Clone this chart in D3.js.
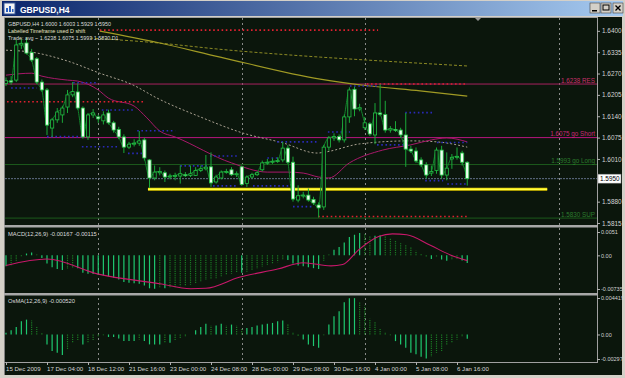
<!DOCTYPE html>
<html>
<head>
<meta charset="utf-8">
<script src="https://cdn.jsdelivr.net/npm/d3@7"></script>
<style>
  html, body { margin: 0; padding: 0; background: #d4d0c8; overflow: hidden; }
  svg { display: block; font-family: 'Liberation Sans', Arial, sans-serif; }
</style>
</head>
<body>
<div id="chart"></div>
<script>
// H4 bars, index 0 = 15 Dec 2009
const opens = [1.6240,1.6248,1.6250,1.6357,1.6363,1.6334,1.6315,1.6244,1.6220,1.6104,
  1.6129,1.6144,1.6168,1.6205,1.6214,1.6165,1.6077,1.6144,1.6138,1.6126,
  1.6150,1.6120,1.6100,1.6077,1.6046,1.6055,1.6058,1.6068,1.6007,1.5952,
  1.5968,1.5968,1.5955,1.5958,1.5958,1.5962,1.5960,1.5960,1.5975,1.5980,
  1.5986,1.5940,1.5952,1.5970,1.5977,1.5962,1.5986,1.5935,1.5955,1.5962,
  1.5977,1.5998,1.6000,1.6003,1.6007,1.6043,1.6000,1.5885,1.5898,1.5900,
  1.5887,1.5870,1.5864,1.6046,1.6074,1.6078,1.6068,1.6138,1.6222,1.6162,
  1.6105,1.6117,1.6083,1.6150,1.6145,1.6098,1.6100,1.6098,1.6083,1.6040,
  1.6034,1.6007,1.5992,1.5967,1.5975,1.6037,1.5961,1.6010,1.6015,1.6028,1.6000];
const highs = [1.6258,1.6262,1.6372,1.6375,1.6380,1.6345,1.6320,1.6252,1.6226,1.6135,
  1.6165,1.6172,1.6220,1.6244,1.6240,1.6170,1.6150,1.6162,1.6145,1.6155,
  1.6160,1.6126,1.6108,1.6085,1.6062,1.6070,1.6095,1.6075,1.6010,1.5990,
  1.5985,1.5975,1.5965,1.5968,1.5990,1.5970,1.5990,1.5985,1.5990,1.6022,
  1.6030,1.5962,1.5975,1.5980,1.5985,1.5972,1.5990,1.5960,1.5968,1.5972,
  1.6005,1.6010,1.6012,1.6015,1.6062,1.6052,1.6017,1.5930,1.5910,1.5920,
  1.5895,1.5878,1.6053,1.6080,1.6088,1.6085,1.6145,1.6228,1.6230,1.6178,
  1.6138,1.6122,1.6180,1.6238,1.6187,1.6110,1.6125,1.6105,1.6150,1.6050,
  1.6045,1.6015,1.6000,1.5990,1.6045,1.6050,1.6030,1.6025,1.6045,1.6035,1.6003];
const lows = [1.6232,1.6236,1.6244,1.6345,1.6328,1.6305,1.6238,1.6214,1.6083,1.6077,
  1.6120,1.6120,1.6150,1.6198,1.6160,1.6072,1.6068,1.6135,1.6120,1.6115,
  1.6115,1.6090,1.6070,1.6028,1.6040,1.6048,1.6050,1.6005,1.5922,1.5945,
  1.5960,1.5940,1.5948,1.5945,1.5935,1.5955,1.5955,1.5958,1.5970,1.5975,
  1.5925,1.5935,1.5948,1.5965,1.5958,1.5955,1.5928,1.5925,1.5950,1.5958,
  1.5972,1.5992,1.5995,1.5998,1.6000,1.5995,1.5880,1.5878,1.5890,1.5880,
  1.5870,1.5832,1.5855,1.6035,1.6065,1.6060,1.6060,1.6120,1.6140,1.6155,
  1.6098,1.6080,1.6055,1.6140,1.6090,1.6090,1.6092,1.6075,1.5986,1.6028,
  1.5998,1.5985,1.5950,1.5958,1.5965,1.5950,1.5945,1.5980,1.6008,1.5990,1.5929];
const closes = [1.6248,1.6244,1.6357,1.6362,1.6332,1.6311,1.6244,1.6220,1.6113,1.6129,
  1.6153,1.6165,1.6205,1.6215,1.6165,1.6077,1.6144,1.6150,1.6132,1.6144,
  1.6120,1.6098,1.6077,1.6046,1.6055,1.6058,1.6065,1.6013,1.5952,1.5970,
  1.5972,1.5955,1.5958,1.5960,1.5965,1.5960,1.5965,1.5975,1.5980,1.5985,
  1.5937,1.5955,1.5970,1.5972,1.5962,1.5965,1.5932,1.5955,1.5962,1.5968,
  1.5998,1.6000,1.6003,1.6005,1.6043,1.6000,1.5888,1.5898,1.5900,1.5885,
  1.5876,1.5861,1.6046,1.6074,1.6078,1.6068,1.6138,1.6220,1.6162,1.6166,
  1.6120,1.6086,1.6150,1.6146,1.6098,1.6102,1.6098,1.6083,1.6040,1.6034,
  1.6004,1.5992,1.5961,1.5972,1.6037,1.5961,1.5982,1.6015,1.6018,1.6000,1.5950];

// date labels on the time axis (bar index -> text)
const dateIdx = [0, 8, 16, 24, 32, 40, 48, 56, 64, 72, 80, 88];
const dateLabels = ['15 Dec 2009', '17 Dec 04:00', '18 Dec 12:00', '21 Dec 16:00', '23 Dec 00:00',
  '24 Dec 08:00', '28 Dec 00:00', '29 Dec 08:00', '30 Dec 16:00', '4 Jan 00:00', '5 Jan 08:00', '6 Jan 16:00'];
const priceTicks = [1.6400, 1.6335, 1.6270, 1.6205, 1.6140, 1.6075, 1.6010, 1.5880, 1.5815];
const lastPrice = 1.5950;
const weekSeparators = [18, 46, 70, 108];

// moving averages: [bar, price]
const maMagenta = [[0,1.6265],[5,1.6271],[7,1.6262],[12,1.6250],[14,1.6247],[18,1.6220],[20,1.6195],
  [25,1.6171],[27.5,1.6135],[30,1.6095],[33,1.6077],[44,1.5998],[51,1.5970],[55,1.5970],[58,1.5967],
  [61,1.5955],[63,1.5952],[67,1.5998],[73.5,1.6037],[79,1.6053],[83,1.6068],[86,1.6074],[90,1.6062]];
const maGray = [[0,1.6341],[5,1.6335],[12,1.6308],[18.3,1.6271],[24.8,1.6235],[29.5,1.6195],
  [37.9,1.6138],[46.2,1.6089],[54,1.6059],[60.7,1.6028],[62.3,1.6031],[69.1,1.6056],[78.8,1.6065],
  [84.1,1.6062],[90,1.6046]];
const maOlive = [[18.3,1.6399],[30,1.6363],[41.8,1.6320],[61.3,1.6253],[71,1.6232],[80.8,1.6217],[90,1.6201]];
const maOliveDash = [[16.4,1.6378],[27.5,1.6366],[43.7,1.6341],[61.3,1.6320],[70.4,1.6311],[90,1.6293]];

// level lines across the chart
const levelNames = ['1.6238 RES', '1.6075 go Short', '1.5993 go Long', '1.5830 SUP'];
const levelPrices = [1.6238, 1.6075, 1.5993, 1.5830];
const levelColors = ['#a8205e', '#b8157e', '#1c5a1c', '#1c5a1c'];
const levelText = ['#c8306a', '#c82878', '#2c7c2c', '#2c7c2c'];

// short dotted levels: [from bar, to bar, price]
const blueLevels = [[1,6,1.6226],[13.1,17.8,1.6242],[8,14.8,1.6078],[14.8,21.9,1.6047],[18.7,25.2,1.6159],
  [23.8,26.5,1.6027],[25.6,33,1.6096],[34,39.2,1.5989],[39.8,45.1,1.6019],[40.4,45.1,1.5928],
  [48.2,55.4,1.5928],[51,53.5,1.6013],[56,60,1.5865],[52.9,60.7,1.6062],[62.8,67.1,1.6092],
  [67.1,72.4,1.6232],[77.9,83.3,1.6151],[72.4,78.8,1.6053],[84.1,90,1.6060],[81.8,85.3,1.5944],[86.1,90,1.5934]];
const redLevels = [[18.3,72.6,1.6402],[0.2,27.1,1.6184],[60.9,90.1,1.5835],[70.4,90,1.6238]];
const supportLine = [27.7, 105.6, 1.5918];

// MACD(12,26,9)
const macdMain = [-0.0024,-0.0022,-0.0012,-0.0002,0.0004,0.0006,0.0002,-0.0006,-0.0018,-0.0026,
  -0.0030,-0.0032,-0.0030,-0.0027,-0.0028,-0.0038,-0.0040,-0.0041,-0.0043,-0.0044,
  -0.0046,-0.0049,-0.0053,-0.0058,-0.0060,-0.0061,-0.0062,-0.0066,-0.0072,-0.0073,
  -0.0072,-0.0072,-0.0071,-0.0070,-0.0068,-0.0066,-0.0064,-0.0061,-0.0058,-0.0054,
  -0.0053,-0.0050,-0.0046,-0.0043,-0.0040,-0.0037,-0.0038,-0.0036,-0.0032,-0.0029,
  -0.0025,-0.0021,-0.0018,-0.0015,-0.0010,-0.0010,-0.0018,-0.0022,-0.0024,-0.0026,
  -0.0028,-0.0030,-0.0012,0.0002,0.0012,0.0018,0.0028,0.0040,0.0045,0.0049,
  0.0046,0.0041,0.0043,0.0044,0.0042,0.0037,0.0032,0.0028,0.0022,0.0017,
  0.0010,0.0004,-0.0003,-0.0008,-0.0004,-0.0009,-0.0012,-0.0010,-0.0009,-0.0011,-0.00167];
const macdSignal = [[0,-0.0022],[8,-0.0008],[18,-0.0041],[30,-0.0062],[36,-0.0073],[39,-0.0072],
  [45.5,-0.0048],[53,-0.0030],[58,-0.0016],[63.4,-0.0023],[65.7,-0.0020],[68.8,0.0012],[72.7,0.0041],
  [75.4,0.0047],[78.2,0.0045],[82.8,0.0022],[86.7,0.0001],[90,-0.00115]];
const macdTicks = [0.0051, 0, -0.00735];
const macdTickText = ['0.0051', '0.00', '-0.00735'];

// OsMA(12,26,9)
const osma = [0.0002,0.0005,0.0009,0.0016,0.0018,0.0017,0.0009,0.0002,-0.0012,-0.0020,
  -0.0022,-0.0025,-0.0018,-0.0010,-0.0008,-0.0012,-0.0010,-0.0008,-0.0003,-0.0001,
  -0.0003,-0.0003,-0.0005,-0.0008,-0.0008,-0.0008,-0.0006,-0.0008,-0.0012,-0.0012,
  -0.0012,-0.0010,-0.0010,-0.0008,-0.0005,-0.0003,0.0000,0.0005,0.0009,0.0013,
  0.0011,0.0011,0.0013,0.0011,0.0012,0.0011,0.0007,0.0008,0.0009,0.0011,
  0.0012,0.0013,0.0014,0.0016,0.0017,0.0013,0.0003,-0.0002,-0.0006,-0.0012,
  -0.0014,-0.0016,-0.0001,0.0012,0.0022,0.0028,0.0039,0.0044,0.0044,0.0040,
  0.0035,0.0019,0.0016,0.0008,0.0003,-0.0001,-0.0008,-0.0012,-0.0016,-0.0022,
  -0.0024,-0.0027,-0.0029,-0.0027,-0.0022,-0.0020,-0.0012,-0.0010,-0.0006,-0.0003,-0.00052];
const osmaTicks = [0.004419, 0, -0.00297];
const osmaTickText = ['0.004419', '0.00', '-0.00297'];

const W = 625, H = 378;
const bg = '#0b160c';
const plotL = 5, plotR = 597;

const svg = d3.select('#chart').append('svg')
  .attr('width', W).attr('height', H)
  .attr('xmlns', 'http://www.w3.org/2000/svg');

// window frame and title bar
svg.append('rect').attr('width', W).attr('height', H).attr('fill', '#d4d0c8');
const grad = svg.append('defs').append('linearGradient').attr('id', 'title');
grad.append('stop').attr('offset', '0%').attr('stop-color', '#0a246a');
grad.append('stop').attr('offset', '100%').attr('stop-color', '#a6caf0');
svg.append('rect').attr('x', 2).attr('y', 1).attr('width', W - 4).attr('height', 15).attr('fill', 'url(#title)');
const icon = svg.append('g').attr('transform', 'translate(4,3)');
icon.append('rect').attr('width', 11).attr('height', 11).attr('fill', '#f4f4f4').attr('stroke', '#3a5a9a');
icon.append('rect').attr('x', 2).attr('y', 5).attr('width', 2).attr('height', 4).attr('fill', '#2a60c0');
icon.append('rect').attr('x', 5).attr('y', 3).attr('width', 2).attr('height', 6).attr('fill', '#2a60c0');
icon.append('rect').attr('x', 8).attr('y', 6).attr('width', 1.5).attr('height', 3).attr('fill', '#2a60c0');
svg.append('text').attr('x', 20).attr('y', 12.5).attr('fill', '#fff')
  .attr('font-size', 8.5).attr('font-weight', 'bold').text('GBPUSD,H4');
[590, 601, 613].forEach((bx, k) => {
  const b = svg.append('g').attr('transform', `translate(${bx},3)`);
  b.append('rect').attr('width', 10).attr('height', 10).attr('fill', '#d4d0c8')
    .attr('stroke', '#404040').attr('stroke-width', 0.6);
  if (k === 0) b.append('rect').attr('x', 2).attr('y', 7).attr('width', 5).attr('height', 1.5).attr('fill', '#000');
  if (k === 1) b.append('rect').attr('x', 2).attr('y', 2).attr('width', 6).attr('height', 5)
    .attr('fill', 'none').attr('stroke', '#000').attr('stroke-width', 1);
  if (k === 2) b.append('path').attr('d', 'M2.5,2.5L7.5,7.5M7.5,2.5L2.5,7.5').attr('stroke', '#000').attr('stroke-width', 1.3);
});

// chart area
svg.append('rect').attr('x', 4).attr('y', 17).attr('width', 618).attr('height', 358).attr('fill', bg);

const x = d3.scaleLinear().domain([0, 90]).range([6, 467.25]);
const y = d3.scaleLinear().domain([1.5809, 1.6439]).range([225, 18]);
const yMacd = d3.scaleLinear().domain([-0.00735, 0.0051]).range([289, 232]);
const yOsma = d3.scaleLinear().domain([-0.00297, 0.004419]).range([359, 298]);

const defs = svg.select('defs');
defs.append('clipPath').attr('id', 'mainClip').append('rect')
  .attr('x', plotL).attr('y', 18).attr('width', plotR - plotL).attr('height', 207);

// week separators through all panels
svg.append('g').selectAll('line').data(weekSeparators).join('line')
  .attr('x1', d => Math.round(x(d)) + 0.5).attr('x2', d => Math.round(x(d)) + 0.5)
  .attr('y1', 18).attr('y2', 362)
  .attr('stroke', '#a8a8a8').attr('stroke-width', 0.8).attr('stroke-dasharray', '2,3');

const main = svg.append('g').attr('clip-path', 'url(#mainClip)');

// full-width level lines
main.selectAll('.lvl').data(levelPrices).join('line')
  .attr('x1', plotL).attr('x2', plotR)
  .attr('y1', d => y(d)).attr('y2', d => y(d))
  .attr('stroke', (d, i) => levelColors[i]).attr('stroke-width', 1);
main.append('line').attr('x1', plotL).attr('x2', plotR)
  .attr('y1', y(lastPrice)).attr('y2', y(lastPrice))
  .attr('stroke', '#7a86a8').attr('stroke-width', 0.8).attr('stroke-dasharray', '2,1');

// moving averages
const maLine = d3.line().x(d => x(d[0])).y(d => y(d[1])).curve(d3.curveMonotoneX);
main.append('path').attr('d', maLine(maOliveDash)).attr('fill', 'none')
  .attr('stroke', '#8c8a24').attr('stroke-width', 1).attr('stroke-dasharray', '3,2');
main.append('path').attr('d', maLine(maOlive)).attr('fill', 'none')
  .attr('stroke', '#a09a24').attr('stroke-width', 1.2);
main.append('path').attr('d', maLine(maGray)).attr('fill', 'none')
  .attr('stroke', '#a8a090').attr('stroke-width', 1).attr('stroke-dasharray', '2,2');
main.append('path').attr('d', maLine(maMagenta)).attr('fill', 'none')
  .attr('stroke', '#a8186a').attr('stroke-width', 1);

// dotted short levels
main.selectAll('.blue').data(blueLevels).join('line')
  .attr('x1', d => x(d[0])).attr('x2', d => x(d[1]))
  .attr('y1', d => y(d[2])).attr('y2', d => y(d[2]))
  .attr('stroke', '#2a2ab8').attr('stroke-width', 1.6).attr('stroke-dasharray', '1.6,2.6');
main.selectAll('.red').data(redLevels).join('line')
  .attr('x1', d => x(d[0])).attr('x2', d => x(d[1]))
  .attr('y1', d => y(d[2])).attr('y2', d => y(d[2]))
  .attr('stroke', '#e02030').attr('stroke-width', 1.6).attr('stroke-dasharray', '1.6,2.6');

// yellow support
main.append('line').attr('x1', x(supportLine[0])).attr('x2', x(supportLine[1]))
  .attr('y1', y(supportLine[2])).attr('y2', y(supportLine[2]))
  .attr('stroke', '#e0c800').attr('stroke-width', 3);
main.append('line').attr('x1', x(supportLine[0])).attr('x2', x(supportLine[1]))
  .attr('y1', y(supportLine[2])).attr('y2', y(supportLine[2]))
  .attr('stroke', '#ffff40').attr('stroke-width', 1.4);

// close line
const idx = d3.range(closes.length);
main.append('path')
  .attr('d', d3.line().x(i => x(i)).y(i => y(closes[i])).curve(d3.curveMonotoneX)(idx))
  .attr('fill', 'none').attr('stroke', '#12862c').attr('stroke-width', 1);

// candles
const bw = 3.2;
main.selectAll('.wick').data(idx).join('line')
  .attr('x1', i => x(i)).attr('x2', i => x(i))
  .attr('y1', i => y(highs[i])).attr('y2', i => y(lows[i]))
  .attr('stroke', '#1aa838').attr('stroke-width', 1);
main.selectAll('.body').data(idx).join('rect')
  .attr('x', i => x(i) - bw / 2)
  .attr('y', i => y(Math.max(opens[i], closes[i])))
  .attr('width', bw)
  .attr('height', i => Math.max(1, Math.abs(y(opens[i]) - y(closes[i]))))
  .attr('fill', i => closes[i] >= opens[i] ? bg : '#eefff0')
  .attr('stroke', '#22c044').attr('stroke-width', 0.8);

// level labels
svg.selectAll('.lvlText').data(levelNames).join('text')
  .attr('x', plotR - 2).attr('y', (d, i) => y(levelPrices[i]) - 1.5)
  .attr('text-anchor', 'end').attr('font-size', 6.3)
  .attr('fill', (d, i) => levelText[i]).text(d => d);

// header texts
const head = svg.append('g').attr('fill', '#dcdcdc').attr('font-size', 5.4);
head.append('text').attr('x', 8).attr('y', 25.5).text('GBPUSD,H4  1.6000 1.6003 1.5929 1.5950');
head.append('text').attr('x', 8).attr('y', 32.5).attr('fill', '#e6e2c0').text('Labelled Timeframe used D shift');
head.append('text').attr('x', 8).attr('y', 39.5).text('Trade: avg ~ 1.6238 1.6075 1.5993 1.5830 D1.');

// chart shift marker
svg.append('path').attr('d', 'M475,18L481,18L478,21Z').attr('fill', '#9a9a9a');

// MACD panel
const macdG = svg.append('g');
macdG.selectAll('line').data(idx).join('line')
  .attr('x1', i => x(i)).attr('x2', i => x(i))
  .attr('y1', yMacd(0)).attr('y2', i => yMacd(macdMain[i]))
  .attr('stroke', i => (i === 0 || Math.abs(macdMain[i]) >= Math.abs(macdMain[i - 1])) ? '#1ec870' : '#1a7a24')
  .attr('stroke-width', 1.2)
  .attr('stroke-dasharray', i => (i === 0 || Math.abs(macdMain[i]) >= Math.abs(macdMain[i - 1])) ? null : '1.2,1');
macdG.append('path')
  .attr('d', d3.line().x(d => x(d[0])).y(d => yMacd(d[1])).curve(d3.curveMonotoneX)(macdSignal))
  .attr('fill', 'none').attr('stroke', '#c8186a').attr('stroke-width', 1.1);
svg.append('text').attr('x', 8).attr('y', 236).attr('fill', '#dcdcdc').attr('font-size', 5.8)
  .text('MACD(12,26,9) -0.00167 -0.00115');

// OsMA panel
const osmaG = svg.append('g');
osmaG.selectAll('line').data(idx).join('line')
  .attr('x1', i => x(i)).attr('x2', i => x(i))
  .attr('y1', yOsma(0)).attr('y2', i => yOsma(osma[i]))
  .attr('stroke', i => (i === 0 || Math.abs(osma[i]) >= Math.abs(osma[i - 1])) ? '#1ec870' : '#1a7a24')
  .attr('stroke-width', 1.2)
  .attr('stroke-dasharray', i => (i === 0 || Math.abs(osma[i]) >= Math.abs(osma[i - 1])) ? null : '1.2,1');
svg.append('text').attr('x', 8).attr('y', 303).attr('fill', '#dcdcdc').attr('font-size', 5.8)
  .text('OsMA(12,26,9) -0.000520');

// borders and separators
const frame = svg.append('g').attr('stroke', '#a0a0a0');
frame.append('line').attr('x1', 4.5).attr('x2', 4.5).attr('y1', 17).attr('y2', 375).attr('stroke', '#808080');
frame.append('line').attr('x1', plotR + 0.5).attr('x2', plotR + 0.5).attr('y1', 17).attr('y2', 362);
frame.append('line').attr('x1', 4).attr('x2', plotR).attr('y1', 17.5).attr('y2', 17.5);
frame.append('line').attr('x1', 4).attr('x2', plotR + 1).attr('y1', 362.5).attr('y2', 362.5);
svg.append('rect').attr('x', 4).attr('y', 225).attr('width', plotR - 3).attr('height', 2.5).attr('fill', '#a8a8a8');
svg.append('rect').attr('x', 4).attr('y', 293).attr('width', plotR - 3).attr('height', 2.5).attr('fill', '#a8a8a8');

// axes
function styleAxis(g, size) {
  g.select('.domain').remove();
  g.selectAll('line').attr('stroke', '#b0b0b0');
  g.selectAll('text').attr('fill', '#d4d4d4').attr('font-size', size)
    .attr('font-family', "'Liberation Sans', Arial, sans-serif");
}
svg.append('g').attr('transform', `translate(${plotR},0)`)
  .call(d3.axisRight(y).tickValues(priceTicks).tickFormat(d3.format('.4f')).tickSize(3).tickPadding(2))
  .call(styleAxis, 6.4);
svg.append('g').attr('transform', `translate(${plotR},0)`)
  .call(d3.axisRight(yMacd).tickValues(macdTicks).tickFormat((d, i) => macdTickText[i]).tickSize(3).tickPadding(1))
  .call(styleAxis, 5.5);
svg.append('g').attr('transform', `translate(${plotR},0)`)
  .call(d3.axisRight(yOsma).tickValues(osmaTicks).tickFormat((d, i) => osmaTickText[i]).tickSize(3).tickPadding(1))
  .call(styleAxis, 5.5);
const xAxis = svg.append('g').attr('transform', 'translate(0,362)')
  .call(d3.axisBottom(x).tickValues(dateIdx).tickFormat((d, i) => dateLabels[i]).tickSize(3).tickPadding(2))
  .call(styleAxis, 6.1);
xAxis.selectAll('text').attr('text-anchor', 'start').attr('dx', -0.5);

// last price box
svg.append('rect').attr('x', plotR + 1).attr('y', y(lastPrice) - 4.5).attr('width', 23).attr('height', 9)
  .attr('fill', '#fff').attr('stroke', '#808080').attr('stroke-width', 0.5);
svg.append('text').attr('x', plotR + 3).attr('y', y(lastPrice) + 2.3).attr('font-size', 6.4)
  .attr('fill', '#000').text(d3.format('.4f')(lastPrice));
</script>
</body>
</html>
